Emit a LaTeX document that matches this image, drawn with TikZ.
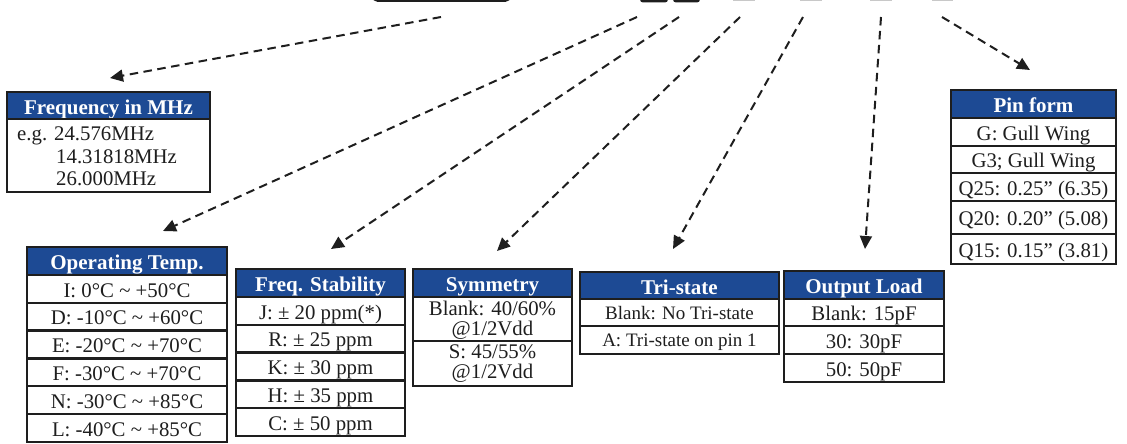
\documentclass[tikz,border=0pt]{standalone}
\usepackage{fontspec}
\setmainfont{Liberation Serif}
\usetikzlibrary{arrows.meta}
\definecolor{hdrblue}{RGB}{29,74,148}
\definecolor{ink}{RGB}{30,30,30}
\definecolor{lightmark}{RGB}{200,200,200}
\begin{document}
\begin{tikzpicture}[x=1pt,y=-1pt,
  every node/.style={font=\fontsize{20.8}{20}\selectfont, text=ink, inner sep=0pt},
  hdr/.style={draw=ink, line width=2.4pt, fill=hdrblue, text=white, font=\fontsize{21}{20}\selectfont\bfseries, text height=17.4pt, text depth=0pt},
  cell/.style={draw=ink, line width=2.4pt, fill=white, align=center, text height=16.5pt, text depth=0pt},
  cellmulti/.style={draw=ink, line width=2.4pt, fill=white, align=center},
  smallbody/.style={font=\fontsize{19}{20}\selectfont, text height=13.6pt},
  conn/.style={draw=ink, line width=2pt, dash pattern=on 8.5pt off 5.5pt, -{Triangle[length=13pt,width=12pt]}},
  topmark/.style={fill=ink, rounded corners=3pt},
  greymark/.style={fill=lightmark},
]
\useasboundingbox (0,0) rectangle (1127,444);
\clip (0,0) rectangle (1127,444);

% cut-off part number shapes at the top
\draw[ink, line width=2pt, rounded corners=5pt] (373,-30) rectangle (510,1);
\fill[topmark] (640,-30) rectangle (668,2.5);
\fill[topmark] (673,-30) rectangle (700,2.5);
\fill[greymark] (733,-30) rectangle (755,1.5);
\fill[greymark] (800,-30) rectangle (822,1.5);
\fill[greymark] (870,-30) rectangle (892,1.5);
\fill[greymark] (932,-30) rectangle (953,1.5);

% connector end points
\coordinate (s1) at (441,17);  \coordinate (t1) at (110,78);
\coordinate (s2) at (637,17);  \coordinate (t2) at (163,231);
\coordinate (s3) at (679,17);  \coordinate (t3) at (331,249);
\coordinate (s4) at (740,17);  \coordinate (t4) at (497,251);
\coordinate (s5) at (803,17);  \coordinate (t5) at (673,249);
\coordinate (s6) at (881,17);  \coordinate (t6) at (865,249);
\coordinate (s7) at (942,17);  \coordinate (t7) at (1030,70);
\foreach \i in {1,...,7} \draw[conn] (s\i) -- (t\i);

% Frequency in MHz
\node[hdr, minimum width=203pt, minimum height=27pt] (fh) at (108.5,105.5) {Frequency in MHz};
\node[cell, minimum width=203pt, minimum height=73pt] (fb) at (108.5,155.5) {};
\node[anchor=base west] (f1) at (17,140) {e.g. 24.576MHz};
\node[anchor=base west] (f2) at (56,163) {14.31818MHz};
\node[anchor=base west] (f3) at (56,185) {26.000MHz};

% Operating Temp.
\node[hdr, minimum width=200pt, minimum height=28pt] (oh) at (127,261) {Operating Temp.};
\foreach \t [count=\i] in {I: 0°C \textasciitilde{} +50°C, D: -10°C \textasciitilde{} +60°C, E: -20°C \textasciitilde{} +70°C, F: -30°C \textasciitilde{} +70°C, N: -30°C \textasciitilde{} +85°C, L: -40°C \textasciitilde{} +85°C}
  \node[cell, minimum width=200pt, minimum height=27.8pt] (o\i) at (127,275+27.8*\i-13.9) {\t};

% Freq. Stability
\node[hdr, minimum width=169pt, minimum height=28pt] (sh) at (320.5,283) {Freq. Stability};
\foreach \t [count=\i] in {J: ± 20 ppm(*), R: ± 25 ppm, K: ± 30 ppm, H: ± 35 ppm, C: ± 50 ppm}
  \node[cell, minimum width=169pt, minimum height=27.8pt] (st\i) at (320.5,297+27.8*\i-13.9) {\t};

% Symmetry
\node[hdr, minimum width=159pt, minimum height=28pt] (yh) at (492.5,283) {Symmetry};
\node[cellmulti, minimum width=159pt, minimum height=44pt] (y1) at (492.5,319) {};
\node[cellmulti, minimum width=159pt, minimum height=45pt] (y2) at (492.5,363.5) {};
\node[anchor=base] (y1a) at (492.5,315) {Blank: 40/60\%};
\node[anchor=base] (y1b) at (492.5,335) {@1/2Vdd};
\node[anchor=base] (y2a) at (492.5,358) {S: 45/55\%};
\node[anchor=base] (y2b) at (492.5,378) {@1/2Vdd};

% Tri-state
\node[hdr, minimum width=199pt, minimum height=27pt] (th) at (679.5,285.5) {Tri-state};
\node[cell, smallbody, minimum width=199pt, minimum height=27pt] (t1n) at (679.5,312.5) {Blank: No Tri-state};
\node[cell, smallbody, minimum width=199pt, minimum height=28pt] (t2n) at (679.5,340) {A: Tri-state on pin 1};

% Output Load
\node[hdr, minimum width=160pt, minimum height=28pt] (lh) at (864,285) {Output Load};
\node[cell, minimum width=160pt, minimum height=27pt] (l1) at (864,312.5) {Blank: 15pF};
\node[cell, minimum width=160pt, minimum height=28pt] (l2) at (864,340) {30: 30pF};
\node[cell, minimum width=160pt, minimum height=28pt] (l3) at (864,368) {50: 50pF};

% Pin form
\node[hdr, minimum width=165pt, minimum height=28pt] (ph) at (1033.5,104) {Pin form};
\node[cell, minimum width=165pt, minimum height=28pt] (p1) at (1033.5,132) {G: Gull Wing};
\node[cell, minimum width=165pt, minimum height=27pt] (p2) at (1033.5,159.5) {G3; Gull Wing};
\node[cell, minimum width=165pt, minimum height=28pt] (p3) at (1033.5,187) {Q25: 0.25” (6.35)};
\node[cell, minimum width=165pt, minimum height=33pt] (p4) at (1033.5,217.5) {Q20: 0.20” (5.08)};
\node[cell, minimum width=165pt, minimum height=30pt] (p5) at (1033.5,249) {Q15: 0.15” (3.81)};
\end{tikzpicture}
\end{document}
